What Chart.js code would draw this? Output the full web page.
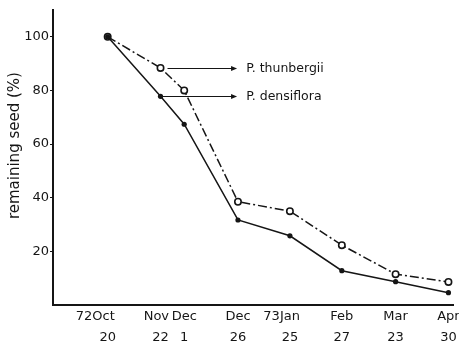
<!DOCTYPE html>
<html>
<head>
<meta charset="utf-8">
<script src="https://cdn.jsdelivr.net/npm/chart.js@4.4.0/dist/chart.umd.min.js"></script>
<style>
  html, body { margin: 0; padding: 0; background: #fff; }
</style>
</head>
<body>
<canvas id="c" width="459" height="345"></canvas>
<script>
// Sampling dates, as days after 20 Oct 1972 along the time axis
const sampleDay = [0, 29, 42, 71.5, 100, 128.5, 158, 187];
const monthLabels = ['72Oct', 'Nov', 'Dec', 'Dec', '73Jan', 'Feb', 'Mar', 'Apr'];
const dayLabels = ['20', '22', '1', '26', '25', '27', '23', '30'];

// Remaining seed (%) per species
const thunbergii = [100, 88.4, 80, 38.5, 35, 22.3, 11.5, 8.6];
const densiflora = [100, 77.8, 67.4, 31.7, 25.8, 12.8, 8.7, 4.6];

const yTicks = [20, 40, 60, 80, 100];

const INK = '#151515';
const FONT = "'DejaVu Sans', sans-serif";

// trailing figure spaces that nudge a month label left of its tick
const LABEL_NUDGE = [3, 1, 0, 0, 2, 0, 0, 0];

// Species names with arrows pointing back to the Nov 22 sample
const speciesNotes = {
  id: 'speciesNotes',
  afterDatasetsDraw(chart) {
    const { ctx, scales: { x, y } } = chart;
    const notes = [
      { text: 'P. thunbergii', values: thunbergii, gap: 7 },
      { text: 'P. densiflora', values: densiflora, gap: 1 }
    ];
    ctx.save();
    ctx.strokeStyle = INK;
    ctx.fillStyle = INK;
    ctx.lineWidth = 1.2;
    ctx.font = '12.5px ' + FONT;
    ctx.textBaseline = 'middle';
    ctx.textAlign = 'left';
    notes.forEach(n => {
      const py = Math.round(y.getPixelForValue(n.values[1])) + 0.5;
      const x0 = x.getPixelForValue(sampleDay[1]) + n.gap;
      const x1 = x.getPixelForValue(71);
      ctx.beginPath();
      ctx.moveTo(x0, py);
      ctx.lineTo(x1 - 5, py);
      ctx.stroke();
      ctx.beginPath();
      ctx.moveTo(x1, py);
      ctx.lineTo(x1 - 6, py - 2.5);
      ctx.lineTo(x1 - 6, py + 2.5);
      ctx.closePath();
      ctx.fill();
      ctx.fillText(n.text, x.getPixelForValue(76), py);
    });
    ctx.restore();
  }
};

new Chart(document.getElementById('c'), {
  type: 'line',
  data: {
    datasets: [
      {
        label: 'P. thunbergii',
        data: sampleDay.map((d, i) => ({ x: d, y: thunbergii[i] })),
        borderColor: INK,
        borderWidth: 1.5,
        borderDash: [9, 3, 2, 3],
        pointRadius: 3.2,
        pointBackgroundColor: '#fff',
        pointBorderColor: INK,
        pointBorderWidth: 1.6,
        tension: 0,
        clip: false,
        order: 1
      },
      {
        label: 'P. densiflora',
        data: sampleDay.map((d, i) => ({ x: d, y: densiflora[i] })),
        borderColor: INK,
        borderWidth: 1.5,
        pointRadius: 2.6,
        pointBackgroundColor: INK,
        pointBorderColor: INK,
        pointBorderWidth: 0,
        tension: 0,
        clip: false,
        order: 0
      }
    ]
  },
  options: {
    responsive: false,
    animation: false,
    devicePixelRatio: 1,
    layout: { autoPadding: false, padding: { top: 10, right: 6, left: 0, bottom: 0 } },
    plugins: {
      legend: { display: false },
      tooltip: { enabled: false }
    },
    scales: {
      x: {
        type: 'linear',
        min: -30,
        max: 189.5,
        afterBuildTicks(scale) {
          scale.ticks = sampleDay.map(v => ({ value: v }));
        },
        afterFit(scale) {
          scale.height = 40;
          scale.paddingLeft = 0;
          scale.paddingRight = 0;
        },
        grid: { display: true, drawOnChartArea: false, drawTicks: false },
        border: { display: true, color: INK, width: 2 },
        ticks: {
          autoSkip: false,
          maxRotation: 0,
          padding: 1,
          color: INK,
          font: { family: FONT, size: 13, lineHeight: 1.6 },
          callback(value, index) {
            const top = monthLabels[index] + '\u2007'.repeat(LABEL_NUDGE[index]);
            return [top, dayLabels[index]];
          }
        }
      },
      y: {
        type: 'linear',
        min: 0,
        max: 110,
        afterBuildTicks(scale) {
          scale.ticks = yTicks.map(v => ({ value: v }));
        },
        afterFit(scale) {
          scale.width = 53;
          scale.paddingTop = 0;
          scale.paddingBottom = 0;
        },
        grid: { display: true, drawOnChartArea: false, drawTicks: true, tickLength: 3, color: INK, lineWidth: 1 },
        border: { display: true, color: INK, width: 2 },
        ticks: {
          padding: 1,
          color: INK,
          font: { family: FONT, size: 13 }
        },
        title: {
          display: true,
          text: '\u00a0\u00a0\u00a0\u00a0\u00a0remaining seed (%)',
          color: INK,
          font: { family: FONT, size: 15 },
          padding: { top: 6, bottom: 0 }
        }
      }
    }
  },
  plugins: [speciesNotes]
});
</script>
</body>
</html>
